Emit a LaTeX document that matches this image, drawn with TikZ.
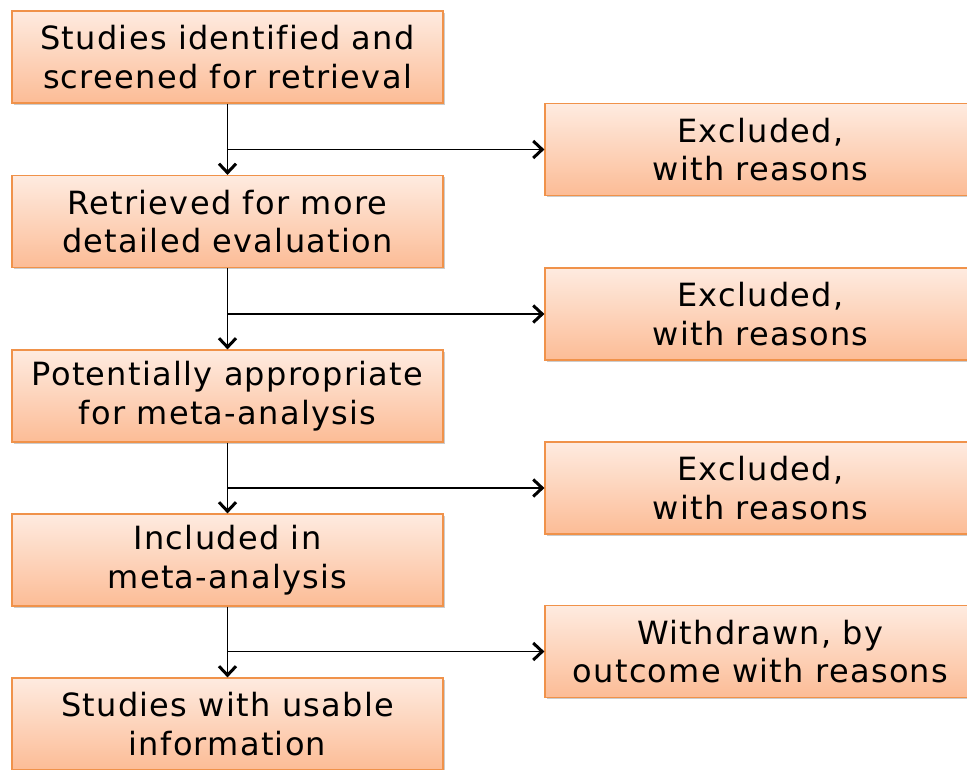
\documentclass[tikz,border=0pt]{standalone}
\usepackage{fontspec}
\setmainfont{DejaVu Sans}[LetterSpace=4,Ligatures=NoCommon]
\usetikzlibrary{arrows.meta,shadows}
\definecolor{boxtop}{HTML}{FEEBE0}
\definecolor{boxbot}{HTML}{FCBC96}
\definecolor{boxline}{HTML}{F0924A}
\tikzset{
  flowbox/.style={draw=boxline, line width=1.2pt, top color=boxtop, bottom color=boxbot,
    minimum width=431pt, minimum height=92pt, align=center, inner sep=0pt,
    font=\fontsize{32}{38.5}\selectfont,
    drop shadow={shadow xshift=1.5pt, shadow yshift=-1.8pt, opacity=0.2, fill=black}},
  flowarrow/.style={line width=1.3pt, -{Straight Barb[length=9pt,width=17pt,line width'=3pt]}}
}
\begin{document}
\begin{tikzpicture}[x=1pt,y=-1pt]
\useasboundingbox (0,0) rectangle (967,769);
\node[flowbox] (L1) at (227.5,57) {Studies identified and\\screened for retrieval};
\node[flowbox] (L2) at (227.5,221.5) {Retrieved for more\\detailed evaluation};
\node[flowbox] (L3) at (227.5,396) {Potentially appropriate\\for meta-analysis};
\node[flowbox] (L4) at (227.5,560) {Included in\\meta-analysis};
\node[flowbox] (L5) at (227.5,724) {Studies with usable\\information};
\node[flowbox] (R1) at (760.5,149.5) {Excluded,\\with reasons};
\node[flowbox] (R2) at (760.5,314) {Excluded,\\with reasons};
\node[flowbox] (R3) at (760.5,488) {Excluded,\\with reasons};
\node[flowbox] (R4) at (760.5,651.5) {Withdrawn, by\\outcome with reasons};
\foreach \a/\b/\r in {L1/L2/R1, L2/L3/R2, L3/L4/R3, L4/L5/R4}{
  \draw[flowarrow] (\a.south) -- (\b.north);
  \draw[flowarrow] (\a.south |- \r.west) -- (\r.west);
}
\end{tikzpicture}
\end{document}
